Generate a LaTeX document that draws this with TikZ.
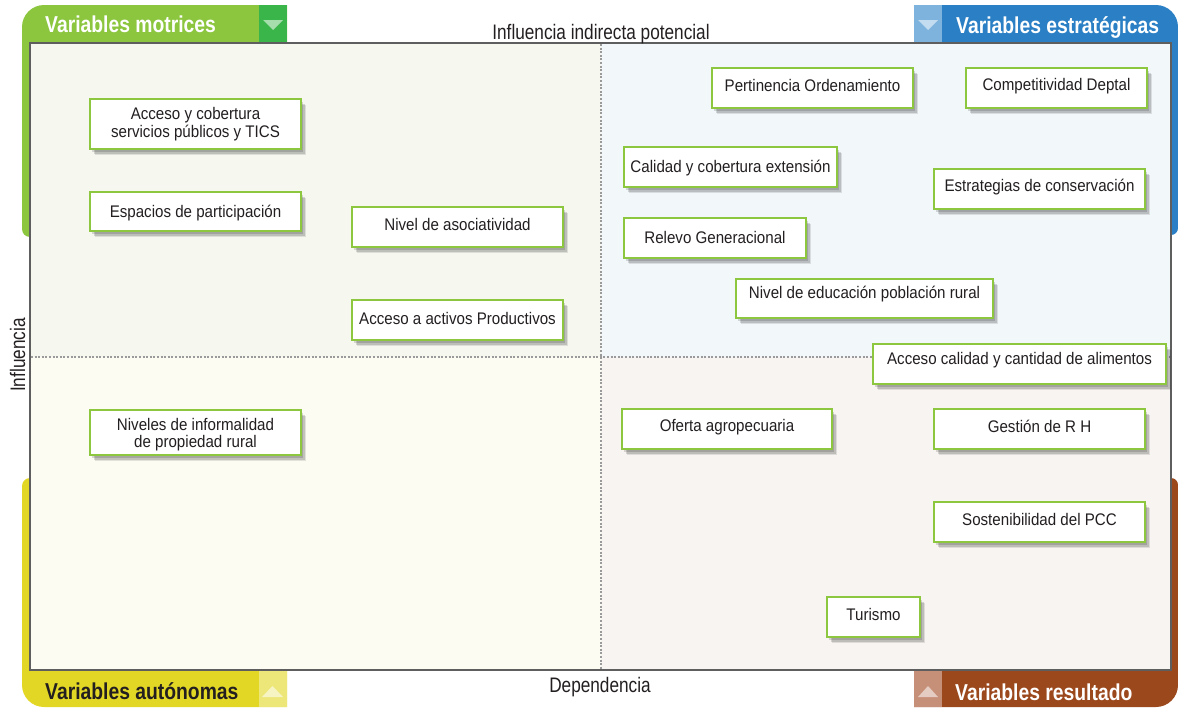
\documentclass[tikz,border=0pt]{standalone}
\usepackage{fontspec}
\setmainfont{Liberation Sans}[FakeStretch=0.9]
\newfontfamily\condfont{Liberation Sans}[FakeStretch=0.82]
\newfontfamily\ttlfont{Liberation Sans}[FakeStretch=0.84]
\usetikzlibrary{shadows}
\definecolor{gband}{HTML}{8CC63F}
\definecolor{gdark}{HTML}{3AB54A}
\definecolor{bband}{HTML}{2B80C5}
\definecolor{blight}{HTML}{7EB3DD}
\definecolor{yband}{HTML}{E3D725}
\definecolor{ylight}{HTML}{EDE77A}
\definecolor{rband}{HTML}{9C481D}
\definecolor{rlight}{HTML}{C68F78}
\definecolor{qTL}{HTML}{F6F8F0}
\definecolor{qTR}{HTML}{F2F7FA}
\definecolor{qBL}{HTML}{FCFCF3}
\definecolor{qBR}{HTML}{F8F4F1}
\definecolor{framec}{HTML}{5E5E5E}
\definecolor{dashc}{HTML}{9A9A9A}
\definecolor{boxg}{HTML}{8DC63F}
\definecolor{txt}{HTML}{231F20}
\tikzset{
  vb/.style={draw=boxg, line width=1.4pt, fill=white, inner sep=0pt,
    drop shadow={shadow xshift=5pt, shadow yshift=-6pt, opacity=0.10, fill=black},
    drop shadow={shadow xshift=3.5pt, shadow yshift=-4.5pt, opacity=0.14, fill=black},
    drop shadow={shadow xshift=2pt, shadow yshift=-3pt, opacity=0.14, fill=black}},
  vt/.style={text=txt, align=center, inner sep=0pt, font={\fontsize{16.8}{17.7}\selectfont}},
  ttl/.style={font={\ttlfont\bfseries\fontsize{23}{25}\selectfont}, inner sep=0pt, anchor=base west},
  axl/.style={text=txt, font={\condfont\fontsize{21}{23}\selectfont}, inner sep=0pt, anchor=base},
  qdash/.style={dashc, line width=1.4pt, dash pattern=on 2pt off 1.6pt},
  tri/.style={fill=white, opacity=0.55}
}
\newcommand\qbox[7]{%
  \node[vb, minimum width={#4-#2}, minimum height={#5-#3}] (#1) at ({(#2+#4)/2},{(#3+#5)/2}) {};
  \node[vt] (#1t) at ([yshift=#6pt]#1.center) {#7};}
\begin{document}
\begin{tikzpicture}[x=1pt,y=-1pt]
\useasboundingbox (0,0) rectangle (1178,707);
% corner bands
\fill[gband] (287,5) -- (44,5) .. controls (31.9,5) and (22,14.9) .. (22,27) -- (22,229)
  .. controls (22,233.4) and (25.6,237) .. (30,237) -- (30,43) -- (287,43) -- cycle;
\fill[gdark] (259,5) rectangle (287,43);
\fill[tri] (263,20) -- (283,20) -- (273,30) -- cycle;
\fill[bband] (914,5) -- (1156,5) .. controls (1168.1,5) and (1178,14.9) .. (1178,27) -- (1178,228)
  .. controls (1178,231.9) and (1174.9,235) .. (1171,235) -- (1171,43) -- (914,43) -- cycle;
\fill[blight] (914,5) rectangle (942,43);
\fill[tri] (918,20) -- (938,20) -- (928,30) -- cycle;
\fill[yband] (30,478) .. controls (25.6,478) and (22,481.6) .. (22,486) -- (22,685)
  .. controls (22,697.1) and (31.9,707) .. (44,707) -- (287,707) -- (287,670) -- (30,670) -- cycle;
\fill[ylight] (259,670) rectangle (287,707);
\fill[tri] (262,697) -- (283,697) -- (272.5,686) -- cycle;
\fill[rband] (914,670) -- (1171,670) -- (1171,478) .. controls (1174.9,478) and (1178,481.1) .. (1178,485)
  -- (1178,685) .. controls (1178,697.1) and (1168.1,707) .. (1156,707) -- (914,707) -- cycle;
\fill[rlight] (914,670) rectangle (942,707);
\fill[tri] (918,697) -- (938,697) -- (928,686) -- cycle;
% quadrants
\fill[qTL] (30,43) rectangle (601,357);
\fill[qTR] (601,43) rectangle (1171,357);
\fill[qBL] (30,357) rectangle (601,670);
\fill[qBR] (601,357) rectangle (1171,670);
\coordinate (vt1) at (601,44); \coordinate (vt2) at (601,669);
\coordinate (hz1) at (31,357); \coordinate (hz2) at (1170,357);
\draw[qdash] (vt1) -- (vt2);
\draw[qdash] (hz1) -- (hz2);
\draw[framec, line width=2pt] (30,43) rectangle (1171,670);
% titles
\node[ttl, text=white] (tm) at (45,32) {Variables motrices};
\node[ttl, text=white] (te) at (956,33) {Variables estratégicas};
\node[ttl, text=txt] (ta) at (45,699) {Variables autónomas};
\node[ttl, text=white] (tr) at (955,700) {Variables resultado};
% axis labels
\node[axl] (ax1) at (601,39.5) {Influencia indirecta potencial};
\node[axl] (ax2) at (600,692) {Dependencia};
\node[axl, rotate=90] (ax3) at (25,355) {Influencia};
% boxes
\qbox{b1}{90}{99}{301}{149}{0}{Acceso y cobertura\\servicios públicos y TICS}
\qbox{b2}{90}{192}{301}{231}{-2}{Espacios de participación}
\qbox{b3}{352}{207}{563}{247}{2.5}{Nivel de asociatividad}
\qbox{b4}{352}{300}{563}{340}{1.5}{Acceso a activos Productivos}
\qbox{b5}{90}{410}{301}{455}{-2}{Niveles de informalidad\\de propiedad rural}
\qbox{b6}{712}{68}{913}{108}{3}{Pertinencia Ordenamiento}
\qbox{b7}{966}{68}{1147}{108}{1.5}{Competitividad Deptal}
\qbox{b8}{624}{147}{837}{187}{-1}{Calidad y cobertura extensión}
\qbox{b9}{934}{169}{1145}{209}{1.5}{Estrategias de conservación}
\qbox{b10}{624}{218}{806}{258}{0.5}{Relevo Generacional}
\qbox{b11}{736}{279}{993}{318}{4}{Nivel de educación población rural}
\qbox{b12}{873}{344}{1166}{384}{3.5}{Acceso calidad y cantidad de alimentos}
\qbox{b13}{622}{409}{832}{449}{1.5}{Oferta agropecuaria}
\qbox{b14}{934}{409}{1145}{449}{3}{Gestión de R H}
\qbox{b15}{934}{502}{1145}{542}{2.5}{Sostenibilidad del PCC}
\qbox{b16}{827}{597}{920}{637}{3}{Turismo}
\end{tikzpicture}
\end{document}
